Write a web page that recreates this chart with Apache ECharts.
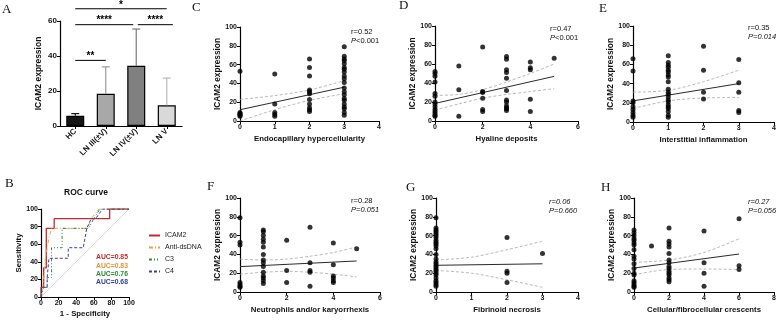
<!DOCTYPE html>
<html>
<head>
<meta charset="utf-8">
<script src="https://cdn.jsdelivr.net/npm/echarts@6/dist/echarts.min.js"></script>
<style>html,body{margin:0;padding:0;background:#fff}#chart{width:779px;height:321px}</style>
</head>
<body>
<div id="chart"></div>
<script>
// ---- panel A: ICAM2 by group (mean + upper SD) ----
const groupNames = ['HC', 'LN III(±V)', 'LN IV(±V)', 'LN V'];
const groupMeans = [5.8, 18.4, 34.4, 11.8];
const groupUpper = [7.1, 33.8, 55.4, 27.4];
// significance brackets: from, to (group position), height, label
const sigFrom = [0, 0, 2.05, 0];
const sigTo = [1, 1.9, 3.2, 3];
const sigHeight = [37.5, 57.9, 57.9, 67];
const sigLabels = ['**', '****', '****', '*'];

// ---- panel B: ROC curves [1-specificity, sensitivity] ----
const rocICAM2 = [[0, 0], [0, 11], [3, 11], [3, 33], [6, 33], [6, 78], [15, 78], [15, 89], [78, 89], [78, 100], [100, 100]];
const rocAntiDsDNA = [[0, 0], [2, 11], [3, 22], [4, 33], [5, 44], [7, 56], [9, 67], [12, 78], [53, 78], [57, 89], [66, 100], [100, 100]];
const rocC3 = [[0, 0], [3, 11], [7, 11], [7, 22], [12, 22], [12, 56], [24, 56], [24, 78], [54, 78], [60, 89], [67, 100], [100, 100]];
const rocC4 = [[0, 0], [1, 11], [7, 11], [7, 22], [9, 22], [9, 44], [31, 44], [31, 56], [48, 56], [52, 78], [57, 89], [62, 89], [70, 100], [100, 100]];
const aucLabels = ['AUC=0.85', 'AUC=0.83', 'AUC=0.76', 'AUC=0.68'];

// ---- panels C-H: ICAM2 expression vs pathology score ----
const endoLevels = [0, 1, 2, 3];
const endoVals = [
  [53, 9, 8, 7, 6, 5],
  [50, 18, 9, 7, 5],
  [66, 57, 48, 33, 31, 29, 23, 18, 14, 12, 10],
  [79, 69, 66, 64, 61, 57, 55, 52, 48, 45, 41, 35, 31, 28, 24, 22, 18, 15, 13, 9, 6]
];
const endoFit = [12, 36];
const endoCiX = [0, 1, 2, 3];
const endoUpper = [23, 27, 33, 43];
const endoLower = [0, 12, 22, 29];

const hyalLevels = [0, 1, 2, 3, 4, 5];
const hyalVals = [
  [52, 50, 47, 41, 29, 26, 20, 18, 15, 12, 10, 8, 6, 5],
  [58, 33, 5],
  [78, 31, 30, 24, 12, 10],
  [68, 65, 54, 51, 45, 32, 22, 20, 16, 14, 13, 11],
  [62, 56, 54, 23, 10],
  [66]
];
const hyalFit = [18.5, 47];
const hyalCiX = [0, 1, 2, 3, 4, 5];
const hyalUpper = [27, 28, 33, 41, 50, 60];
const hyalLower = [11.5, 18, 24, 28, 31, 34];

const interLevels = [0, 1, 2, 3];
const interVals = [
  [66, 53, 22, 20, 16, 13, 10, 7, 5],
  [69, 62, 59, 57, 54, 52, 49, 47, 42, 34, 31, 29, 26, 23, 21, 18, 16, 14, 11, 7, 5],
  [79, 54, 31, 24],
  [65, 41, 31, 12, 10]
];
const interFit = [22, 40];
const interCiX = [0, 1, 2, 3];
const interUpper = [31, 33, 42, 54];
const interLower = [14, 22, 25, 25.5];

const neutLevels = [0, 1, 2, 3, 4, 5];
const neutVals = [
  [79, 53, 50, 10, 8, 6, 5],
  [66, 64, 60, 56, 53, 48, 40, 34, 31, 27, 21, 17, 15, 12, 9],
  [55, 23, 10],
  [69, 31, 23, 21, 6],
  [52, 29, 17, 15, 12, 10],
  [46]
];
const neutFit = [27, 33];
const neutCiX = [0, 1, 2, 3, 4, 5];
const neutUpper = [35, 34, 35, 38, 42, 48];
const neutLower = [19, 21, 22, 21, 19, 16];

const fibrLevels = [0, 2, 3];
const fibrVals = [
  [79, 68, 66, 64, 62, 60, 58, 55, 53, 51, 49, 46, 40, 35, 32, 30, 28, 26, 24, 22, 20, 18, 15, 12, 10, 8, 6],
  [58, 22, 20, 10],
  [41]
];
const fibrFit = [28.4, 30];
const fibrCiX = [0, 1, 2, 3];
const fibrUpper = [34, 37, 45, 54];
const fibrLower = [23, 20, 13, 5];

const cresLevels = [0, 1, 2, 4, 6];
const cresVals = [
  [66, 63, 60, 57, 55, 52, 50, 45, 38, 35, 30, 25, 20, 18, 12, 10, 8, 6, 5],
  [49],
  [68, 54, 51, 48, 41, 34, 31, 27, 25, 22, 20, 18, 15, 13, 11],
  [65, 31, 20, 6],
  [78, 28, 24]
];
const cresFit = [25.5, 40.4];
const cresCiX = [0, 2, 4, 6];
const cresUpper = [31.6, 34, 42, 56.7];
const cresLower = [18.4, 24, 24.5, 23.8];

const FONT = '"Liberation Sans", Arial, sans-serif';
const SERIF = '"Liberation Serif", "Times New Roman", serif';
const barColors = ['#161616', '#a8a8a8', '#808080', '#d9d9d9'];
const errColors = ['#161616', '#9a9a9a', '#7a7a7a', '#b8b8b8'];

function axis(extra) {
  return Object.assign({
    axisLine: { show: true, onZero: false, lineStyle: { color: '#000', width: 1.2 } },
    axisTick: { show: true, length: 3, lineStyle: { color: '#000', width: 1 } },
    axisLabel: { color: '#111', fontSize: 7, fontWeight: 'bold', fontFamily: FONT, margin: 3 },
    splitLine: { show: false },
    nameTextStyle: { color: '#111', fontSize: 7.8, fontWeight: 'bold', fontFamily: FONT }
  }, extra);
}

const grids = [
  { left: 60, top: 21, width: 122, height: 105 },
  { left: 41, top: 209, width: 88, height: 88 }
];
const xAxes = [
  axis({ type: 'category', gridIndex: 0, data: groupNames,
    axisTick: { show: true, alignWithLabel: true, length: 3, lineStyle: { color: '#000', width: 1 } },
    axisLabel: { color: '#111', fontSize: 8, fontWeight: 'bold', fontFamily: FONT, rotate: 45, margin: 4, interval: 0 } }),
  { type: 'value', gridIndex: 0, min: -0.5, max: 3.5, show: false },
  axis({ type: 'value', gridIndex: 1, min: 0, max: 100, interval: 20, name: '1 - Specificity',
    nameLocation: 'middle', nameGap: 13 })
];
const yAxes = [
  axis({ type: 'value', gridIndex: 0, min: 0, max: 60, interval: 20, name: 'ICAM2 expression',
    nameLocation: 'middle', nameGap: 17,
    axisLabel: { color: '#111', fontSize: 8, fontWeight: 'bold', fontFamily: FONT, margin: 3 },
    nameTextStyle: { color: '#111', fontSize: 8.5, fontWeight: 'bold', fontFamily: FONT } }),
  axis({ type: 'value', gridIndex: 1, min: 0, max: 100, interval: 20, name: 'Sensitivity',
    nameLocation: 'middle', nameGap: 18 })
];

const series = [
  { type: 'bar', xAxisIndex: 0, yAxisIndex: 0, barWidth: 18,
    data: groupMeans.map((v, i) => ({ value: v, itemStyle: { color: barColors[i] } })),
    itemStyle: { borderColor: '#000', borderWidth: 1.2 } },
  { type: 'custom', xAxisIndex: 0, yAxisIndex: 0, clip: false, z: 3,
    data: groupMeans.map((v, i) => [i, v, groupUpper[i]]),
    encode: { x: 0, y: [1, 2] },
    renderItem(params, api) {
      const base = api.coord([api.value(0), api.value(1)]);
      const top = api.coord([api.value(0), api.value(2)]);
      const c = errColors[params.dataIndex];
      return { type: 'group', children: [
        { type: 'line', shape: { x1: base[0], y1: base[1], x2: top[0], y2: top[1] }, style: { stroke: c, lineWidth: 1.2 } },
        { type: 'line', shape: { x1: top[0] - 4, y1: top[1], x2: top[0] + 4, y2: top[1] }, style: { stroke: c, lineWidth: 1.2 } }
      ] };
    } },
  { type: 'custom', xAxisIndex: 1, yAxisIndex: 0, clip: false, z: 3,
    data: sigLabels.map((s, i) => [sigFrom[i], sigTo[i], sigHeight[i]]),
    encode: { x: [0, 1], y: 2 },
    renderItem(params, api) {
      const a = api.coord([api.value(0), api.value(2)]);
      const b = api.coord([api.value(1), api.value(2)]);
      return { type: 'group', children: [
        { type: 'line', shape: { x1: a[0], y1: a[1], x2: b[0], y2: b[1] }, style: { stroke: '#000', lineWidth: 1 } },
        { type: 'text', x: (a[0] + b[0]) / 2, y: a[1] + 1,
          style: { text: sigLabels[params.dataIndex], fill: '#000', font: 'bold 10px ' + FONT, align: 'center', verticalAlign: 'bottom' } }
      ] };
    } },
  { type: 'line', name: 'diag', xAxisIndex: 2, yAxisIndex: 1, data: [[0, 0], [100, 100]], symbol: 'none',
    lineStyle: { color: '#cfcfcf', width: 0.8 }, silent: true },
  { type: 'line', name: 'ICAM2', xAxisIndex: 2, yAxisIndex: 1, data: rocICAM2, symbol: 'none',
    lineStyle: { color: '#c8282e', width: 1.3 }, itemStyle: { color: '#c8282e' } },
  { type: 'line', name: 'Anti-dsDNA', xAxisIndex: 2, yAxisIndex: 1, data: rocAntiDsDNA, symbol: 'none',
    lineStyle: { color: '#e8a24a', width: 1, type: [4, 2, 1, 2] }, itemStyle: { color: '#e8a24a' } },
  { type: 'line', name: 'C3', xAxisIndex: 2, yAxisIndex: 1, data: rocC3, symbol: 'none',
    lineStyle: { color: '#2f8a3a', width: 1, type: [3, 2, 1, 2, 1, 2] }, itemStyle: { color: '#2f8a3a' } },
  { type: 'line', name: 'C4', xAxisIndex: 2, yAxisIndex: 1, data: rocC4, symbol: 'none',
    lineStyle: { color: '#3a3f9e', width: 1, type: [3, 2] }, itemStyle: { color: '#3a3f9e' } }
];

const scatterPanels = [
  { levels: endoLevels, vals: endoVals, fit: endoFit, ciX: endoCiX, up: endoUpper, lo: endoLower,
    name: 'Endocapillary hypercellularity', xMax: 4, xInt: 1, grid: { left: 240, top: 27, width: 139, height: 94 } },
  { levels: hyalLevels, vals: hyalVals, fit: hyalFit, ciX: hyalCiX, up: hyalUpper, lo: hyalLower,
    name: 'Hyaline deposits', xMax: 6, xInt: 2, grid: { left: 435, top: 26, width: 143, height: 95 } },
  { levels: interLevels, vals: interVals, fit: interFit, ciX: interCiX, up: interUpper, lo: interLower,
    name: 'Interstitial inflammation', xMax: 4, xInt: 1, grid: { left: 633, top: 26, width: 145, height: 96 } },
  { levels: neutLevels, vals: neutVals, fit: neutFit, ciX: neutCiX, up: neutUpper, lo: neutLower,
    name: 'Neutrophils and/or karyorrhexis', xMax: 6, xInt: 2, grid: { left: 240, top: 198, width: 140, height: 94 } },
  { levels: fibrLevels, vals: fibrVals, fit: fibrFit, ciX: fibrCiX, up: fibrUpper, lo: fibrLower,
    name: 'Fibrinoid necrosis', xMax: 4, xInt: 1, grid: { left: 436, top: 198, width: 142, height: 94 } },
  { levels: cresLevels, vals: cresVals, fit: cresFit, ciX: cresCiX, up: cresUpper, lo: cresLower,
    name: 'Cellular/fibrocellular crescents', xMax: 8, xInt: 2, grid: { left: 634, top: 198, width: 143, height: 94 } }
];

scatterPanels.forEach((p) => {
  const gi = grids.length;
  const xi = xAxes.length;
  const yi = yAxes.length;
  grids.push(p.grid);
  xAxes.push(axis({ type: 'value', gridIndex: gi, min: 0, max: p.xMax, interval: p.xInt,
    name: p.name, nameLocation: 'middle', nameGap: 14 }));
  yAxes.push(axis({ type: 'value', gridIndex: gi, min: 0, max: 100, interval: 20,
    name: 'ICAM2 expression', nameLocation: 'middle', nameGap: 15,
    nameTextStyle: { color: '#111', fontSize: 8.3, fontWeight: 'bold', fontFamily: FONT } }));
  const pts = [];
  p.levels.forEach((lv, j) => p.vals[j].forEach(v => pts.push([lv, v])));
  const last = p.levels[p.levels.length - 1];
  series.push(
    { type: 'line', xAxisIndex: xi, yAxisIndex: yi, data: p.ciX.map((x, j) => [x, p.up[j]]), symbol: 'none', smooth: 0.3,
      lineStyle: { color: '#a8a8a8', width: 0.8, type: [3, 2] }, z: 1 },
    { type: 'line', xAxisIndex: xi, yAxisIndex: yi, data: p.ciX.map((x, j) => [x, p.lo[j]]), symbol: 'none', smooth: 0.3,
      lineStyle: { color: '#a8a8a8', width: 0.8, type: [3, 2] }, z: 1 },
    { type: 'line', xAxisIndex: xi, yAxisIndex: yi, data: [[p.levels[0], p.fit[0]], [last, p.fit[1]]], symbol: 'none',
      lineStyle: { color: '#2a2a2a', width: 1 }, z: 2 },
    { type: 'scatter', xAxisIndex: xi, yAxisIndex: yi, data: pts, symbolSize: 5,
      itemStyle: { color: '#000' }, z: 3 }
  );
});

const letter = (t, left, top) => ({ text: t, left, top, padding: 0,
  textStyle: { fontFamily: SERIF, fontSize: 13, fontWeight: 'normal', color: '#111' } });
const stat = (t, left, top) => ({ text: t, left, top, padding: 0,
  textStyle: { fontFamily: FONT, fontSize: 7.5, fontWeight: 'normal', color: '#111', lineHeight: 8.5,
    rich: { i: { fontStyle: 'italic', fontFamily: FONT, fontSize: 7.5, color: '#111' } } } });
const aucColors = ['#c0282c', '#e09436', '#2a8a30', '#2e3c9a'];

const titles = [
  letter('A', 2, 3), letter('B', 5, 177), letter('C', 192, 1), letter('D', 399, -1),
  letter('E', 599, 2), letter('F', 207, 180), letter('G', 406, 181), letter('H', 601, 181),
  { text: 'ROC curve', left: 64, top: 188, padding: 0,
    textStyle: { fontFamily: FONT, fontSize: 8.5, fontWeight: 'bold', color: '#111' } },
  stat('r=0.52\n{i|P}<0.001', 351, 28),
  stat('r=0.47\n{i|P}<0.001', 550, 25),
  stat('r=0.35\n{i|P=0.014}', 748, 24),
  stat('r=0.28\n{i|P=0.051}', 351, 197),
  stat('{i|r=0.06}\n{i|P=0.660}', 549, 198),
  stat('{i|r=0.27}\n{i|P=0.056}', 748, 198)
];
aucLabels.forEach((t, i) => titles.push({ text: t, left: 96, top: 254 + i * 8.2, padding: 0,
  textStyle: { fontFamily: FONT, fontSize: 6.8, fontWeight: 'bold', color: aucColors[i] } }));

const chart = echarts.init(document.getElementById('chart'));
chart.setOption({
  animation: false,
  backgroundColor: '#fff',
  title: titles,
  legend: {
    data: ['ICAM2', 'Anti-dsDNA', 'C3', 'C4'],
    orient: 'vertical', left: 148, top: 232, padding: 0, itemWidth: 11, itemHeight: 6, itemGap: 5,
    itemStyle: { opacity: 0 },
    textStyle: { fontSize: 7, color: '#222', fontFamily: FONT }
  },
  grid: grids,
  xAxis: xAxes,
  yAxis: yAxes,
  series: series
});
</script>
</body>
</html>
